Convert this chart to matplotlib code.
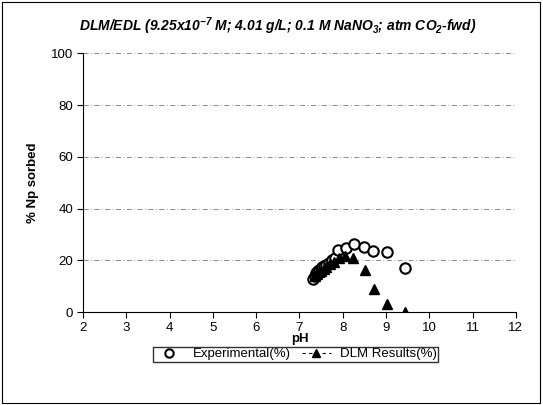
import matplotlib
matplotlib.use('Agg')
import matplotlib.pyplot as plt
from matplotlib.lines import Line2D
from matplotlib.patches import Rectangle

plt.rcParams['font.family'] = ['Liberation Sans', 'DejaVu Sans']
plt.rcParams['mathtext.fontset'] = 'custom'
plt.rcParams['mathtext.rm'] = 'Liberation Sans'
plt.rcParams['mathtext.bf'] = 'Liberation Sans:bold:italic'

# ── data ────────────────────────────────────────────────────────
ph_exp = [7.31, 7.35, 7.38, 7.40, 7.43, 7.46, 7.50, 7.53, 7.57, 7.62, 7.68,
          7.75, 7.82, 7.89, 8.08, 8.25, 8.48, 8.71, 9.03, 9.43]
pct_exp = [13.0, 14.2, 15.0, 15.5, 16.0, 16.4, 16.8, 17.3, 17.8, 18.4, 19.2,
           20.0, 21.0, 24.1, 24.9, 26.2, 25.4, 23.8, 23.2, 17.0]

ph_dlm = [7.35, 7.40, 7.45, 7.50, 7.56, 7.62, 7.70, 7.80, 7.92, 8.05,
          8.24, 8.51, 8.72, 9.03, 9.43]
pct_dlm = [14.0, 14.8, 15.5, 16.1, 16.8, 17.5, 18.5, 19.6, 20.8, 21.6,
           21.0, 16.2, 9.1, 3.1, 0.1]

x_ticks = list(range(2, 13))
y_ticks = [0, 20, 40, 60, 80, 100]

fig = plt.figure(figsize=(5.43, 4.05), dpi=100)
ax = fig.add_axes([0.153, 0.229, 0.797, 0.639])

ax.plot(ph_exp, pct_exp, linestyle='none', marker='o', markersize=7.5,
        markerfacecolor='white', markeredgecolor='black', markeredgewidth=1.5,
        zorder=3)
ax.plot(ph_dlm, pct_dlm, linestyle='none', marker='^', markersize=7,
        color='black', zorder=4)

ax.set_xlim(2, 12)
ax.set_ylim(0, 100)
ax.set_xticks(x_ticks)
ax.set_yticks(y_ticks)
ax.tick_params(labelsize=9.5, direction='out', length=4, width=0.8, pad=3)
for s in ['top', 'right']:
    ax.spines[s].set_visible(False)
ax.grid(axis='y', color='#777777', linestyle=(0, (6, 3, 1, 3)), linewidth=0.6)
ax.set_axisbelow(True)

ax.set_xlabel('pH', fontsize=9.5, fontweight='bold', labelpad=-1)
ax.set_ylabel('% Np sorbed', fontsize=9.5, fontweight='bold', labelpad=9)
ax.set_title(r'DLM/EDL (9.25x10$^{\mathbf{-7}}$ M; 4.01 g/L; 0.1 M NaNO$_\mathbf{3}$; atm CO$_\mathbf{2}$-fwd)',
             fontsize=10, fontweight='bold', style='italic', pad=16, x=0.45)

handles = [
    Line2D([], [], linestyle='none', marker='o', markersize=6,
           markerfacecolor='white', markeredgecolor='black', markeredgewidth=1.5),
    Line2D([], [], linestyle=(0, (3, 3)), color='black', linewidth=0.8,
           marker='^', markersize=6),
]
fig.legend(handles, ['Experimental(%)', 'DLM Results(%)'], ncol=2,
           loc='center', bbox_to_anchor=(0.545, 0.125), fontsize=9.5,
           frameon=True, fancybox=False, edgecolor='black', borderpad=0.12,
           handlelength=2.2, columnspacing=0.8, handletextpad=0.7,
           borderaxespad=0)

fig.patches.append(Rectangle((0.004, 0.004), 0.99, 0.99, transform=fig.transFigure,
                             fill=False, edgecolor='black', linewidth=0.8))

fig.savefig('out.png', dpi=100)
